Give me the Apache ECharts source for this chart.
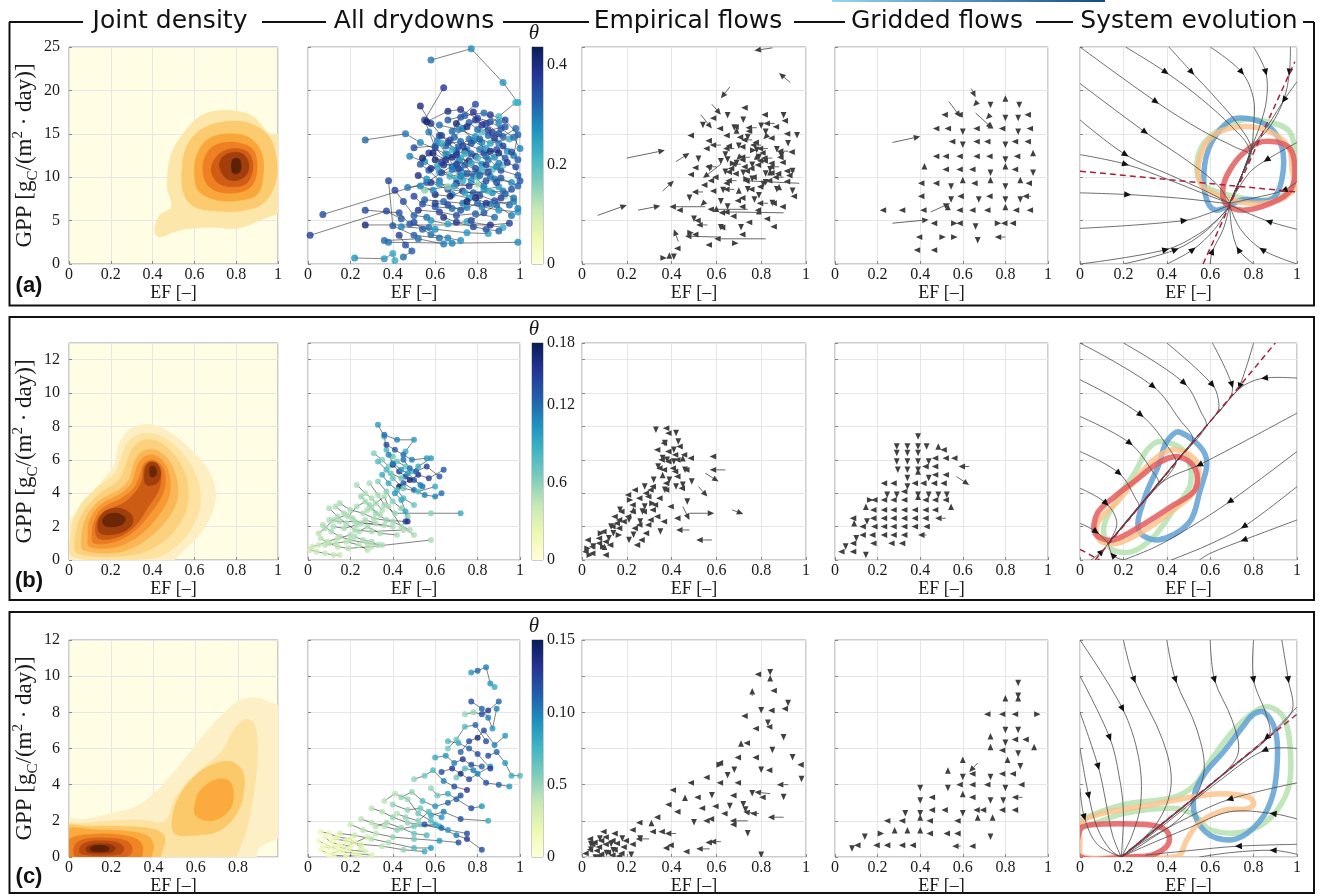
<!DOCTYPE html>
<html>
<head>
<meta charset="utf-8">
<title>Drydown dynamics</title>
<script src="https://cdn.jsdelivr.net/npm/echarts/dist/echarts.min.js"></script>
<style>
  html, body { margin: 0; padding: 0; background: #fff; }
  #chart { width: 1321px; height: 896px; }
</style>
</head>
<body>
<div id="chart"></div>
<script>
// ---------------- data ----------------
const titles = ['Joint density', 'All drydowns', 'Empirical flows', 'Gridded flows', 'System evolution'];
const gppMax = [25, 13, 12];
const gppStep = [5, 2, 2];
const efMaxDensity = [1, 1, 0.99];
const thetaMax = [0.436, 0.168, 0.15];
const thetaStep = [0.2, 0.06, 0.05];
const thetaTicksA = ['0', '0.2', '0.4'];
const thetaTicksB = ['0', '0.6', '0.12', '0.18'];
const thetaTicksC = ['0', '0.5', '0.10', '0.15'];
const panelTags = ['(a)', '(b)', '(c)'];

// joint density: [level, polygon of [EF, GPP]]
const densA = [
  [0, [[0.43,3.1],[0.5,3.7],[0.58,4.1],[0.7,4.2],[0.8,4.1],[0.92,5.1],[1.03,6.6],[1.03,14.6],[0.96,15.0],[0.88,17.0],[0.76,17.7],[0.64,17.2],[0.56,15.4],[0.49,12.7],[0.47,8.9],[0.49,6.6],[0.43,5.5],[0.41,3.9]]],
  [1, [[0.55,8.0],[0.6,6.6],[0.7,6.1],[0.82,6.1],[0.93,7.0],[0.99,9.5],[0.99,12.6],[0.95,14.9],[0.85,16.3],[0.72,16.3],[0.62,15.3],[0.56,13.4],[0.54,10.6]]],
  [2, [[0.6,10.3],[0.62,8.4],[0.7,7.4],[0.8,7.3],[0.9,8.0],[0.93,10.4],[0.92,12.9],[0.86,14.6],[0.76,15.0],[0.66,14.3],[0.61,12.4]]],
  [3, [[0.64,11.0],[0.66,9.2],[0.72,8.3],[0.82,8.3],[0.88,9.2],[0.9,11.3],[0.88,13.2],[0.8,14.0],[0.71,13.8],[0.66,12.8]]],
  [4, [[0.68,11.0],[0.71,9.4],[0.78,8.9],[0.85,9.3],[0.88,11.1],[0.86,12.8],[0.79,13.3],[0.72,12.7]]],
  [5, [[0.72,11.2],[0.75,9.9],[0.8,9.6],[0.85,10.3],[0.86,11.6],[0.83,12.7],[0.77,12.8],[0.73,12.2]]],
  [6, [[0.78,10.6],[0.8,10.4],[0.82,10.7],[0.82,11.9],[0.8,12.2],[0.78,11.9]]]
];
const densB = [
  [0, [[-0.03,-0.4],[0.45,-0.4],[0.55,0.6],[0.63,1.6],[0.69,3.0],[0.70,4.2],[0.67,5.3],[0.6,6.4],[0.5,7.5],[0.4,8.1],[0.3,7.9],[0.24,7.0],[0.22,5.8],[0.17,4.9],[0.08,3.6],[0.02,2.6],[-0.03,2.2]]],
  [1, [[0.02,0.2],[0.4,0.1],[0.52,0.9],[0.6,2.2],[0.63,3.5],[0.61,5.0],[0.55,6.3],[0.46,7.3],[0.37,7.6],[0.29,7.2],[0.25,6.2],[0.22,5.2],[0.13,4.3],[0.05,3.2],[0.01,1.8]]],
  [2, [[0.04,0.4],[0.3,0.3],[0.45,1.1],[0.54,2.4],[0.57,3.6],[0.56,5.0],[0.51,6.2],[0.44,7.0],[0.36,7.2],[0.3,6.6],[0.27,5.6],[0.24,4.8],[0.14,3.9],[0.06,2.7],[0.03,1.4]]],
  [3, [[0.07,0.6],[0.25,0.5],[0.38,1.3],[0.48,2.6],[0.52,3.8],[0.51,5.1],[0.47,6.1],[0.41,6.6],[0.35,6.5],[0.31,5.8],[0.29,4.9],[0.25,4.3],[0.14,3.5],[0.08,2.5],[0.06,1.4]]],
  [4, [[0.1,0.8],[0.23,0.8],[0.34,1.5],[0.43,2.7],[0.48,3.9],[0.48,5.1],[0.45,5.9],[0.4,6.3],[0.35,6.1],[0.32,5.4],[0.3,4.6],[0.25,4.0],[0.15,3.3],[0.1,2.4],[0.09,1.4]]],
  [5, [[0.12,1.0],[0.22,1.1],[0.31,1.7],[0.39,2.8],[0.45,4.0],[0.46,5.0],[0.44,5.7],[0.4,6.0],[0.36,5.8],[0.34,5.1],[0.31,4.3],[0.25,3.7],[0.16,3.1],[0.12,2.3],[0.11,1.5]]],
  [6, [[0.14,1.3],[0.24,1.4],[0.32,2.1],[0.38,3.2],[0.43,4.2],[0.44,5.1],[0.42,5.7],[0.39,5.9],[0.36,5.6],[0.35,4.8],[0.32,4.1],[0.26,3.4],[0.17,2.9],[0.13,2.2]]],
  [7, [[0.15,1.6],[0.24,1.6],[0.3,2.1],[0.3,2.7],[0.24,3.1],[0.17,2.9],[0.14,2.3]]],
  [7, [[0.37,4.5],[0.42,4.6],[0.44,5.2],[0.42,5.8],[0.38,5.8],[0.36,5.2]]],
  [8, [[0.18,2.0],[0.25,2.1],[0.27,2.5],[0.23,2.8],[0.18,2.7],[0.16,2.3]]],
  [8, [[0.39,5.0],[0.41,5.0],[0.42,5.3],[0.41,5.6],[0.39,5.6],[0.385,5.3]]]
];
const densC = [
  [0, [[-0.03,-0.4],[0.87,-0.4],[0.9,0.5],[1.03,1.5],[1.03,8.0],[0.94,8.6],[0.88,8.8],[0.8,8.6],[0.72,7.8],[0.62,6.5],[0.52,5.0],[0.42,3.7],[0.32,2.8],[0.2,2.4],[0.08,2.1],[-0.03,2.0]]],
  [1, [[-0.03,-0.4],[0.75,-0.4],[0.82,0.8],[0.86,2.5],[0.89,5.0],[0.89,6.8],[0.87,7.5],[0.83,7.6],[0.78,7.0],[0.72,5.8],[0.63,4.9],[0.55,4.0],[0.5,3.2],[0.47,2.2],[0.44,1.9],[0.35,2.05],[0.2,2.0],[0.05,1.85],[-0.03,1.8]]],
  [2, [[-0.03,-0.4],[0.4,-0.4],[0.45,0.6],[0.45,1.2],[0.4,1.55],[0.25,1.7],[0.1,1.7],[-0.03,1.65]]],
  [2, [[0.5,1.3],[0.6,1.2],[0.72,1.5],[0.8,2.5],[0.83,3.8],[0.82,4.8],[0.76,5.3],[0.66,5.0],[0.58,4.3],[0.52,3.3],[0.49,2.2]]],
  [3, [[-0.03,-0.4],[0.36,-0.4],[0.4,0.5],[0.38,1.1],[0.3,1.4],[0.15,1.5],[-0.03,1.45]]],
  [3, [[0.6,2.3],[0.68,2.0],[0.76,2.6],[0.78,3.5],[0.76,4.2],[0.7,4.3],[0.63,3.8],[0.6,3.1]]],
  [4, [[-0.03,-0.4],[0.32,-0.4],[0.35,0.5],[0.32,1.0],[0.22,1.25],[0.1,1.25],[0.02,1.1],[-0.03,0.6]]],
  [5, [[0.03,0.05],[0.28,0.05],[0.3,0.5],[0.27,0.9],[0.18,1.05],[0.08,1.0],[0.03,0.7]]],
  [6, [[0.06,0.15],[0.24,0.15],[0.26,0.5],[0.23,0.8],[0.15,0.9],[0.08,0.8],[0.05,0.5]]],
  [7, [[0.09,0.25],[0.2,0.25],[0.22,0.5],[0.19,0.7],[0.13,0.72],[0.09,0.6],[0.08,0.45]]],
  [8, [[0.11,0.32],[0.18,0.32],[0.19,0.5],[0.17,0.62],[0.12,0.62],[0.1,0.48]]]
];

// drydowns: sequences of [EF, GPP, theta]
const dryA = [
  [[0.58,23.5,.30],[0.77,24.8,.28],[0.92,20.9,.27],[0.99,18.6,.25]],
  [[0.64,20.3,.38],[0.55,16.6,.37],[0.6,13.4,.34],[0.68,11.2,.31]],
  [[0.27,14.3,.32],[0.46,15.0,.30],[0.53,14.0,.28],[0.66,12.6,.25]],
  [[0.07,5.7,.35],[0.56,9.4,.33],[0.71,11.8,.31],[0.86,10.1,.29]],
  [[0.01,3.3,.37],[0.37,6.1,.36],[0.44,5.2,.34]],
  [[0.22,0.7,.27],[0.36,0.6,.26],[0.4,1.2,.24],[0.41,0.4,.23]],
  [[0.38,2.5,.30],[0.68,2.4,.29],[0.99,2.5,.28]],
  [[0.27,6.2,.36],[0.43,5.9,.34],[0.48,4.6,.33],[0.57,4.2,.31]],
  [[0.27,4.5,.41],[0.86,4.5,.39],[0.95,4.7,.37]],
  [[0.38,9.6,.36],[0.40,4.4,.34],[0.5,3.3,.33],[0.62,3.0,.31]],
  [[0.44,4.3,.29],[0.6,4.0,.27],[0.75,3.6,.26],[0.85,3.5,.25]],
  [[0.36,2.7,.32],[0.52,2.9,.31],[0.64,2.3,.30]],
  [[0.98,18.6,.22],[0.9,17.0,.21],[0.82,15.2,.20]],
  [[0.79,18.4,.35],[0.72,16.9,.34],[0.68,15.3,.32],[0.75,13.2,.30],[0.82,11.5,.28]],
  [[0.53,18.2,.40],[0.58,16.2,.38],[0.63,14.8,.36],[0.7,13.1,.33]],
  [[0.56,16.4,.42],[0.66,17.6,.40],[0.72,17.8,.39],[0.84,16.2,.37],[0.9,15.0,.35]],
  [[0.86,17.2,.38],[0.93,16.6,.36],[0.99,14.9,.33],[0.97,12.5,.30]],
  [[0.48,12.4,.29],[0.55,11.8,.27],[0.62,10.6,.25],[0.7,9.8,.23]],
  [[0.5,13.4,.36],[0.6,13.6,.34],[0.72,14.1,.32],[0.81,13.2,.30],[0.88,12.3,.28]],
  [[0.52,10.2,.40],[0.58,9.4,.38],[0.66,8.6,.36],[0.78,8.2,.33],[0.92,8.4,.30]],
  [[0.55,8.5,.16],[0.66,8.9,.15],[0.8,9.2,.14],[0.93,7.8,.13]],
  [[0.62,16.0,.31],[0.71,15.5,.29],[0.79,14.7,.27],[0.86,13.9,.25],[0.95,14.4,.23]],
  [[0.6,12.0,.42],[0.68,12.3,.41],[0.76,11.9,.39],[0.84,11.4,.37],[0.91,10.8,.35],[0.99,10.2,.33]],
  [[0.63,10.5,.35],[0.72,10.8,.34],[0.8,10.6,.32],[0.88,9.8,.30],[0.96,9.4,.28]],
  [[0.55,7.4,.33],[0.64,7.2,.32],[0.73,7.0,.30],[0.82,6.6,.29],[0.9,6.2,.27],[0.99,6.0,.25]],
  [[0.52,6.2,.39],[0.62,6.0,.37],[0.7,5.6,.35],[0.79,5.8,.33],[0.88,5.4,.31]],
  [[0.58,5.0,.26],[0.66,4.6,.25],[0.75,4.9,.24],[0.92,4.2,.23]],
  [[0.74,13.0,.40],[0.79,12.4,.39],[0.83,12.8,.37],[0.89,13.2,.35],[0.93,12.2,.33]],
  [[0.66,14.0,.37],[0.7,12.8,.36],[0.74,11.4,.34],[0.78,10.2,.32],[0.83,9.0,.30],[0.87,8.2,.28]],
  [[0.76,16.3,.33],[0.8,15.5,.32],[0.85,14.8,.31],[0.9,13.9,.29],[0.94,13.0,.27]],
  [[0.57,15.2,.30],[0.61,14.2,.29],[0.65,12.7,.28],[0.69,11.2,.26],[0.73,9.6,.24]],
  [[0.53,11.5,.34],[0.57,10.8,.33],[0.62,9.6,.31],[0.68,8.0,.29],[0.76,7.6,.27]],
  [[0.8,16.8,.36],[0.86,16.4,.35],[0.91,15.6,.33],[0.97,14.6,.31],[1.0,13.3,.29]],
  [[0.7,9.3,.38],[0.76,9.0,.37],[0.84,9.6,.35],[0.91,9.9,.34],[0.99,9.0,.32]],
  [[0.6,8.0,.41],[0.67,7.8,.40],[0.73,8.4,.38],[0.81,7.9,.36],[0.88,7.3,.34],[0.95,6.8,.32]],
  [[0.72,12.2,.25],[0.77,11.6,.24],[0.82,10.9,.22],[0.87,10.9,.20],[0.92,11.4,.18]],
  [[0.65,13.6,.33],[0.69,14.6,.32],[0.73,15.6,.30],[0.78,14.2,.28],[0.84,13.3,.26]],
  [[0.5,7.8,.36],[0.54,6.9,.35],[0.6,6.6,.33],[0.68,6.4,.31],[0.75,6.5,.29]],
  [[0.47,8.8,.30],[0.53,9.0,.29],[0.59,8.5,.28]],
  [[0.41,8.5,.37],[0.45,7.2,.35],[0.5,5.6,.33],[0.56,5.4,.31]],
  [[0.88,14.5,.39],[0.92,13.6,.37],[0.96,12.9,.35],[0.99,12.0,.33]],
  [[0.66,16.6,.34],[0.74,17.1,.33],[0.83,17.4,.31],[0.9,16.3,.29]],
  [[0.61,11.3,.24],[0.67,10.1,.23],[0.73,10.4,.21],[0.8,10.0,.19]],
  [[0.57,12.8,.38],[0.63,11.7,.37],[0.71,11.0,.35],[0.77,12.7,.33],[0.85,12.0,.31]],
  [[0.77,5.0,.36],[0.83,5.9,.34],[0.89,6.8,.32],[0.96,5.6,.30]],
  [[0.43,3.3,.37],[0.46,2.2,.35],[0.49,1.5,.33],[0.45,0.8,.31]],
  [[0.62,14.8,.36],[0.67,14.3,.35],[0.71,13.5,.33],[0.76,14.4,.31],[0.82,14.0,.29]],
  [[0.7,16.2,.41],[0.75,15.8,.40],[0.79,16.6,.38],[0.85,15.4,.36],[0.93,15.8,.34]],
  [[0.58,11.0,.39],[0.64,11.4,.38],[0.7,11.5,.36],[0.75,10.4,.34],[0.81,10.2,.32],[0.9,11.6,.30]],
  [[0.56,9.8,.27],[0.62,9.2,.26],[0.69,9.0,.25],[0.74,8.2,.24],[0.85,8.4,.22]],
  [[0.6,7.0,.37],[0.66,6.8,.36],[0.72,6.2,.34],[0.8,7.0,.32],[0.86,6.9,.30],[0.97,7.2,.28]],
  [[0.64,5.4,.40],[0.7,4.8,.38],[0.78,4.3,.36],[0.84,4.0,.34],[0.9,3.8,.32]],
  [[0.5,4.8,.35],[0.54,4.0,.33],[0.58,3.4,.31],[0.66,3.0,.29],[0.72,2.7,.27]],
  [[0.78,17.5,.39],[0.82,16.0,.38],[0.87,15.1,.36],[0.92,14.7,.34],[0.98,15.6,.32]],
  [[0.86,13.0,.41],[0.9,12.8,.40],[0.94,11.7,.38],[0.98,11.2,.36],[1.0,9.6,.34]],
  [[0.73,13.6,.36],[0.77,13.9,.35],[0.81,14.4,.33],[0.84,12.4,.31],[0.89,11.2,.29]],
  [[0.68,10.9,.30],[0.72,10.1,.29],[0.77,9.6,.28],[0.83,8.6,.27],[0.9,8.9,.26]],
  [[0.54,12.2,.42],[0.59,12.8,.41],[0.65,12.0,.39],[0.7,12.6,.37],[0.79,11.0,.35]],
  [[0.63,13.9,.24],[0.68,13.2,.23],[0.74,12.7,.22],[0.8,12.2,.21]],
  [[0.85,10.6,.36],[0.89,9.4,.35],[0.93,8.1,.33],[0.97,7.6,.31],[0.99,6.4,.29]],
  [[0.75,7.2,.42],[0.79,7.6,.41],[0.84,7.0,.39],[0.91,7.6,.37],[0.96,8.6,.35]]
];
const dryB = [
  [[0.33,8.1,.10],[0.36,7.4,.09],[0.37,6.6,.08],[0.4,6.2,.07]],
  [[0.36,7.5,.12],[0.42,7.2,.11],[0.5,7.2,.10],[0.46,6.5,.09]],
  [[0.37,6.9,.14],[0.41,6.6,.13],[0.45,6.3,.12],[0.49,6.0,.11],[0.56,6.1,.10]],
  [[0.31,6.4,.06],[0.35,6.0,.06],[0.38,5.6,.06],[0.42,5.9,.07],[0.46,5.6,.07]],
  [[0.4,5.7,.16],[0.43,5.3,.15],[0.46,5.0,.14],[0.5,4.8,.13],[0.54,4.4,.12]],
  [[0.39,5.2,.07],[0.44,4.9,.07],[0.49,5.3,.08],[0.52,5.6,.09],[0.58,6.1,.10]],
  [[0.43,4.4,.17],[0.48,4.8,.16],[0.52,5.1,.15],[0.57,4.9,.14],[0.64,5.4,.13]],
  [[0.35,5.1,.09],[0.38,4.6,.09],[0.42,4.2,.08],[0.45,3.7,.08],[0.5,3.3,.07]],
  [[0.45,4.6,.13],[0.5,4.2,.12],[0.55,3.9,.11],[0.6,3.8,.11],[0.63,4.0,.12]],
  [[0.33,4.7,.06],[0.37,4.1,.06],[0.4,3.5,.06],[0.44,3.1,.06],[0.47,2.6,.06]],
  [[0.29,4.6,.05],[0.33,3.9,.05],[0.36,3.3,.055],[0.41,2.8,.055],[0.58,2.8,.06],[0.72,2.8,.09]],
  [[0.23,4.5,.05],[0.27,4.0,.05],[0.3,3.7,.05],[0.35,3.0,.05]],
  [[0.25,3.8,.055],[0.29,3.3,.055],[0.32,2.8,.055],[0.37,2.4,.055],[0.46,2.3,.14]],
  [[0.13,3.2,.05],[0.17,2.8,.05],[0.21,2.5,.05],[0.25,2.2,.05],[0.36,2.1,.05]],
  [[0.1,3.1,.05],[0.14,2.6,.05],[0.18,2.2,.05],[0.22,1.8,.05],[0.3,1.7,.05],[0.45,1.8,.05]],
  [[0.15,3.4,.05],[0.2,3.0,.05],[0.26,2.8,.05],[0.31,2.5,.05],[0.4,2.3,.05],[0.48,1.8,.05]],
  [[0.07,2.1,.05],[0.11,1.7,.05],[0.15,1.4,.05],[0.2,1.2,.05],[0.28,1.0,.05],[0.35,0.9,.05]],
  [[0.06,1.3,.045],[0.1,1.0,.045],[0.14,0.8,.045],[0.19,0.7,.045],[0.3,0.8,.045],[0.58,1.2,.05]],
  [[0.01,0.6,.04],[0.04,0.5,.04],[0.08,0.4,.04],[0.12,0.3,.04],[0.15,0.3,.04]],
  [[0.02,0.8,.04],[0.05,0.9,.04],[0.09,1.1,.045],[0.14,1.3,.045],[0.2,1.5,.05]],
  [[0.12,2.0,.05],[0.17,1.9,.05],[0.23,2.1,.05],[0.27,2.4,.05],[0.32,2.2,.05]],
  [[0.19,2.6,.05],[0.23,3.2,.05],[0.27,3.5,.05],[0.3,3.1,.05],[0.34,2.7,.05]],
  [[0.22,1.4,.05],[0.26,1.2,.05],[0.3,1.1,.05],[0.33,0.9,.05]],
  [[0.1,2.4,.05],[0.15,2.3,.05],[0.22,2.3,.05],[0.4,2.0,.05]],
  [[0.33,5.9,.08],[0.37,5.4,.08],[0.4,4.9,.07],[0.45,4.3,.07],[0.52,4.1,.08],[0.6,4.4,.09]],
  [[0.38,6.3,.11],[0.4,5.8,.11],[0.44,5.4,.10],[0.47,5.2,.10],[0.53,4.5,.11]],
  [[0.28,3.0,.05],[0.32,3.4,.05],[0.36,3.8,.05],[0.38,3.2,.05],[0.44,2.0,.05],[0.5,1.5,.05]],
  [[0.05,1.6,.045],[0.08,1.9,.05],[0.12,2.4,.05],[0.18,2.7,.05]],
  [[0.24,1.7,.05],[0.28,2.0,.05],[0.34,1.6,.05],[0.42,1.5,.05]],
  [[0.08,0.9,.045],[0.13,1.0,.045],[0.18,1.1,.045],[0.24,0.9,.045],[0.28,0.6,.045]],
  [[0.45,6.0,.12],[0.48,5.5,.12],[0.51,5.3,.13],[0.56,5.6,.14],[0.62,5.0,.13]],
  [[0.41,4.0,.10],[0.44,3.6,.09],[0.46,2.9,.09],[0.47,2.3,.15]]
];
const dryC = [
  [[0.77,10.2,.09],[0.8,10.3,.11],[0.84,10.5,.10],[0.86,9.6,.09],[0.88,9.4,.08]],
  [[0.77,8.6,.12],[0.82,8.2,.11],[0.85,7.7,.10],[0.87,7.1,.09],[0.89,8.2,.10]],
  [[0.74,7.9,.05],[0.78,8.0,.05],[0.82,7.9,.12],[0.85,8.1,.13],[0.9,8.6,.11]],
  [[0.72,5.8,.11],[0.76,6.4,.12],[0.8,6.6,.14],[0.83,7.0,.12],[0.88,6.2,.10],[0.93,6.7,.09]],
  [[0.66,6.0,.06],[0.7,6.5,.06],[0.74,7.2,.07],[0.79,7.3,.11],[0.84,6.4,.12]],
  [[0.6,5.5,.08],[0.65,5.6,.09],[0.69,5.2,.10],[0.73,5.4,.13],[0.77,5.1,.12],[0.82,5.0,.11]],
  [[0.63,4.7,.12],[0.68,4.9,.13],[0.72,4.6,.14],[0.76,4.3,.12],[0.8,4.6,.10],[0.86,5.0,.09]],
  [[0.5,4.3,.05],[0.55,4.5,.06],[0.59,4.8,.07],[0.64,4.2,.10],[0.69,3.9,.12],[0.75,3.7,.13]],
  [[0.44,3.3,.05],[0.49,3.6,.05],[0.54,3.1,.07],[0.6,2.8,.09],[0.66,3.0,.11],[0.72,3.4,.12]],
  [[0.4,2.9,.05],[0.47,2.6,.05],[0.53,2.7,.06],[0.58,2.3,.08],[0.64,2.5,.10],[0.72,2.1,.12],[0.85,2.0,.08]],
  [[0.36,3.1,.04],[0.41,3.5,.04],[0.47,3.2,.05],[0.52,2.4,.06],[0.58,2.0,.07],[0.62,1.7,.08]],
  [[0.3,2.7,.04],[0.35,2.5,.04],[0.4,2.2,.05],[0.47,1.9,.05],[0.53,1.8,.06],[0.66,1.5,.09],[0.75,1.3,.12]],
  [[0.25,2.1,.04],[0.3,1.9,.04],[0.36,1.7,.04],[0.42,1.5,.05],[0.5,1.7,.06],[0.6,1.8,.08]],
  [[0.2,1.8,.035],[0.26,1.5,.04],[0.32,1.3,.04],[0.4,1.1,.05],[0.5,1.0,.06],[0.62,0.9,.09],[0.71,0.8,.12]],
  [[0.15,1.3,.03],[0.22,1.2,.035],[0.3,1.0,.04],[0.38,0.8,.045],[0.5,0.5,.07],[0.58,0.5,.09]],
  [[0.12,1.0,.02],[0.18,0.9,.025],[0.25,0.7,.03],[0.35,0.6,.04],[0.45,0.4,.05],[0.55,0.3,.08]],
  [[0.06,1.4,.015],[0.1,1.3,.015],[0.14,1.1,.02],[0.2,1.0,.02],[0.25,0.5,.03]],
  [[0.05,0.9,.01],[0.08,0.7,.01],[0.12,0.5,.015],[0.16,0.3,.015],[0.22,0.2,.02],[0.3,0.1,.025]],
  [[0.06,0.4,.01],[0.09,0.2,.01],[0.12,0.1,.015],[0.18,0.05,.02],[0.24,0.1,.025]],
  [[0.07,0.6,.012],[0.1,0.5,.012],[0.14,0.6,.015],[0.19,0.4,.02],[0.27,0.3,.03]],
  [[0.08,1.1,.012],[0.11,0.8,.012],[0.15,0.7,.015],[0.2,0.6,.02]],
  [[0.1,0.15,.01],[0.14,0.3,.012],[0.17,0.5,.015],[0.22,0.8,.02],[0.28,1.1,.03]],
  [[0.55,1.8,.12],[0.63,1.6,.11],[0.7,1.2,.10],[0.75,1.0,.13],[0.82,0.4,.12]],
  [[0.58,3.8,.05],[0.61,3.4,.06],[0.66,3.5,.08],[0.7,3.2,.11],[0.77,2.7,.12],[0.82,2.8,.09]],
  [[0.85,5.6,.12],[0.89,5.8,.11],[0.93,5.2,.09],[0.96,4.5,.08],[1.0,4.5,.07]],
  [[0.66,6.4,.07],[0.71,6.3,.08],[0.76,6.0,.11],[0.8,5.7,.12],[0.86,4.9,.13]],
  [[0.7,4.4,.06],[0.74,4.9,.07],[0.78,4.8,.10],[0.84,4.1,.12],[0.9,4.0,.11],[0.95,3.9,.09]],
  [[0.42,2.4,.04],[0.46,2.2,.05],[0.52,2.0,.05],[0.57,2.5,.07],[0.63,2.2,.09]],
  [[0.32,1.7,.04],[0.37,1.9,.045],[0.44,1.6,.05],[0.5,1.3,.06],[0.56,1.2,.07]]
];

// empirical flows: [EF, GPP, dEF, dGPP]
const flowA = [
  [0.85,24.9,-0.08,-0.3],[0.93,20.9,-0.05,1.1],[0.66,20.4,-0.04,-1.3],[0.07,5.6,0.13,1.2],[0.2,12.2,0.17,0.9],
  [0.53,17.2,0.05,-1.6],[0.58,18.4,0.04,-1.2],[0.36,8.4,0.05,1.2],[0.82,2.9,-0.23,0],[0.62,3.1,-0.16,0.1],
  [0.9,5.9,-0.27,0.1],[0.97,9.3,-0.25,0.3],[0.43,2.6,-0.02,1.4],[0.62,11.5,-0.08,-1.6],[0.25,6.2,0.1,0.5],
  [0.55,6.6,-0.16,0],[0.42,11.8,0.06,1.0],[0.74,6.3,-0.18,0],
  [0.45,6.2,-0.015,0],[0.48,8.0,0,-0.35],[0.5,10.3,-0.015,0],[0.52,12.5,0,-0.35],[0.53,5.0,-0.015,0],[0.55,7.2,-0.01,-0.25],
  [0.56,9.1,-0.015,0],[0.57,11.4,0,-0.35],[0.58,14.2,-0.015,0],[0.6,6.0,0,0.35],[0.6,8.4,-0.015,0],[0.61,10.0,-0.015,0],
  [0.62,12.2,0,-0.35],[0.63,15.6,-0.015,0],[0.64,4.2,-0.015,0],[0.65,7.0,0,-0.35],[0.66,9.3,-0.015,0],[0.66,11.6,0.015,0],
  [0.67,13.6,-0.015,0],[0.68,16.1,0,-0.35],[0.69,5.5,-0.015,0],[0.7,8.1,0,0.35],[0.7,10.4,-0.015,0],[0.71,12.5,-0.01,-0.25],
  [0.72,14.6,-0.015,0],[0.72,17.0,0,-0.35],[0.73,6.6,-0.015,0],[0.74,9.0,0,-0.35],[0.74,11.2,-0.015,0],[0.75,13.1,0.015,0],
  [0.76,15.3,-0.015,0],[0.76,4.8,-0.015,0],[0.77,7.8,0,-0.35],[0.78,10.0,-0.015,0],[0.78,12.0,0,0.35],[0.79,14.0,-0.015,0],
  [0.8,16.3,0,-0.35],[0.8,6.2,-0.015,0],[0.81,8.9,-0.015,0],[0.82,10.8,0,-0.35],[0.82,12.8,-0.015,0],[0.83,14.9,-0.01,-0.25],
  [0.84,5.2,-0.015,0],[0.85,7.4,0,-0.35],[0.85,9.6,-0.015,0],[0.86,11.6,-0.015,0],[0.87,13.6,0,-0.35],[0.88,15.8,-0.015,0],
  [0.88,8.5,0,0.35],[0.89,10.4,-0.015,0],[0.9,12.3,-0.015,0],[0.91,6.6,-0.015,0],[0.92,14.3,0,-0.35],[0.93,9.5,-0.015,0],
  [0.94,11.1,0,-0.35],[0.95,12.9,-0.015,0],[0.96,7.8,-0.015,0],[0.5,14.8,-0.015,0],[0.54,16.4,0,-0.35],[0.47,3.6,0.015,0],
  [0.41,1.2,0,-0.35],[0.39,0.6,0,0.35],[0.35,0.7,0.015,0],[0.44,1.8,-0.015,0],[0.52,3.4,-0.015,0],[0.58,2.2,-0.015,0],
  [0.67,2.4,0.015,0],[0.73,3.4,-0.015,0],[0.62,4.6,0,-0.35],[0.68,11.0,-0.015,0],[0.76,11.8,0,-0.35],[0.8,11.4,-0.015,0],
  [0.72,9.8,0.015,0],[0.84,10.2,0,0.35],[0.77,8.6,-0.015,0],[0.64,13.0,0,-0.35],[0.86,14.5,-0.015,0],[0.69,15.0,0,0.35],
  [0.6,16.8,-0.015,0],[0.92,16.5,-0.015,0],[0.96,15.2,0,-0.35],[0.74,18.0,-0.015,0],[0.65,17.5,0,-0.35],[0.83,17.2,-0.015,0],
  [0.9,17.5,0,-0.35],[0.71,7.3,-0.015,0],[0.79,5.7,0,0.35],[0.87,4.3,-0.015,0],[0.63,8.9,0,-0.35],[0.57,13.3,-0.015,0],
  [0.94,10.2,-0.015,0],[0.81,9.6,0,-0.35],[0.75,10.7,-0.015,0],[0.69,12.0,0,-0.35],[0.83,11.9,-0.015,0],[0.73,12.0,-0.015,0],
  [0.78,13.5,0,-0.35],[0.66,14.8,-0.015,0],
  [0.62,13.7,-0.05,0],[0.65,12.4,0,-0.35],[0.68,13.3,-0.05,0],[0.7,14.0,0,-0.35],[0.71,11.5,-0.05,0],[0.73,13.5,-0.015,0],
  [0.74,15.0,0,-0.35],[0.75,12.3,-0.05,0],[0.76,10.2,0,-0.35],[0.77,11.0,-0.015,0],[0.78,15.7,-0.05,0],[0.79,12.7,0,-0.35],
  [0.8,13.7,-0.05,0],[0.81,11.9,-0.015,0],[0.82,9.8,0,-0.35],[0.83,13.3,-0.05,0],[0.84,11.3,0,-0.35],[0.85,12.2,-0.05,0],
  [0.86,10.5,-0.015,0],[0.87,9.0,0,-0.35],[0.88,11.2,-0.05,0],[0.89,12.9,0,-0.35],[0.9,10.0,-0.05,0],[0.91,11.7,-0.015,0],
  [0.92,13.0,-0.05,0],[0.72,10.9,0,-0.35],[0.69,9.6,-0.05,0],[0.67,10.6,-0.015,0],[0.64,11.0,0,-0.35],[0.6,11.2,-0.05,0],
  [0.59,9.6,-0.015,0],[0.62,7.6,0,-0.35],[0.68,8.6,-0.05,0],[0.73,7.6,-0.015,0],[0.79,8.3,0,-0.35],[0.83,7.0,-0.05,0],
  [0.87,7.0,-0.015,0],[0.94,8.8,0,-0.35],[0.76,14.3,-0.05,0],[0.7,15.8,-0.015,0],[0.82,15.6,0,-0.35],[0.86,16.2,-0.05,0],
  [0.93,15.0,-0.015,0],[0.95,10.7,-0.05,0],[0.66,5.9,-0.05,0],[0.71,4.6,0,-0.35],[0.56,4.5,-0.05,0],[0.5,5.6,0,-0.35],
  [0.54,8.3,-0.05,0],[0.52,11.1,-0.015,0]
];
const flowB = [
  [0.64,5.4,-0.07,0],[0.55,5.2,0.06,-0.5],[0.48,2.8,0.11,0],[0.67,3.0,0.05,-0.25],[0.58,1.2,-0.07,0],
  [0.48,1.8,-0.06,0],[0.6,6.2,-0.03,0],[0.52,4.4,0.04,-0.6],[0.45,3.2,0.03,-0.8],
  [0.01,0.7,0.015,0],[0.03,0.5,-0.015,0],[0.05,1.0,0,-0.2],[0.06,0.4,-0.015,0],[0.08,0.8,0.015,0],[0.09,1.3,-0.015,0],
  [0.1,0.6,0,0.2],[0.11,1.7,-0.015,0],[0.12,1.1,-0.015,0],[0.13,2.2,0,-0.2],[0.14,0.9,-0.015,0],[0.15,1.5,0.015,0],
  [0.16,2.6,-0.015,0],[0.17,3.2,0,-0.2],[0.18,1.9,-0.015,0],[0.19,2.9,-0.015,0],[0.2,3.6,0.015,0],[0.2,2.3,-0.015,0],
  [0.21,1.4,0,-0.2],[0.22,3.9,-0.015,0],[0.23,2.8,0,0.2],[0.24,3.3,-0.015,0],[0.25,4.2,-0.015,0],[0.25,1.9,-0.015,0],
  [0.26,2.5,0,-0.2],[0.27,3.7,-0.015,0],[0.28,4.6,0,-0.2],[0.28,1.2,-0.015,0],[0.29,2.9,-0.015,0],[0.3,3.4,0.015,0],
  [0.3,4.0,-0.015,0],[0.31,2.1,-0.015,0],[0.32,5.0,0,-0.2],[0.33,3.0,-0.015,0],[0.33,4.4,-0.015,0],[0.34,5.8,0,-0.2],
  [0.35,2.6,-0.015,0],[0.35,6.6,-0.015,0],[0.36,4.9,0,0.2],[0.36,3.7,-0.015,0],[0.37,7.2,0,-0.2],[0.38,5.4,-0.015,0],
  [0.38,6.2,0,-0.2],[0.39,4.2,-0.015,0],[0.4,7.6,-0.015,0],[0.4,5.9,-0.015,0],[0.41,6.8,0,-0.2],[0.41,3.2,-0.015,0],
  [0.42,4.6,0,-0.2],[0.42,5.5,-0.015,0],[0.43,6.3,-0.015,0],[0.43,7.3,0,-0.2],[0.44,2.5,-0.015,0],[0.44,5.0,-0.015,0],
  [0.45,5.9,0,0.2],[0.45,6.8,-0.015,0],[0.46,4.3,-0.015,0],[0.47,3.7,0,-0.2],[0.47,6.3,-0.015,0],[0.48,5.4,-0.015,0],
  [0.49,4.9,0,-0.2],[0.5,6.1,-0.015,0],[0.33,8.0,0,-0.2],[0.26,0.9,-0.015,0],[0.3,1.6,-0.015,0],[0.35,1.9,0,-0.2],
  [0.38,2.3,-0.015,0],[0.12,0.3,-0.015,0],[0.07,1.6,0.015,0],[0.39,7.9,-0.015,0],[0.42,7.8,0,-0.2],[0.37,6.0,-0.015,0],
  [0.4,6.5,-0.015,0],[0.39,5.0,0,-0.2],[0.44,6.0,-0.015,0],[0.46,5.6,0,-0.2],[0.36,5.5,-0.015,0],[0.32,4.2,-0.015,0],
  [0.27,3.1,0,-0.2],[0.22,2.6,-0.015,0],[0.17,2.2,-0.015,0],[0.14,1.8,0,-0.2],[0.04,1.2,-0.015,0],[0.02,0.3,0.015,0],
  [0.36,6.3,0,-0.2],[0.38,7.0,-0.015,0],[0.41,6.1,0,-0.2],[0.43,5.3,-0.015,0],[0.45,4.7,0,-0.2],[0.39,4.6,-0.015,0],
  [0.37,4.4,0,-0.2],[0.31,3.8,-0.015,0],[0.28,3.4,0,-0.2],[0.24,2.9,-0.015,0],[0.21,2.6,0,-0.2],[0.18,2.4,-0.015,0],
  [0.15,2.0,-0.015,0],[0.12,1.5,0,-0.2],[0.09,1.0,-0.015,0],[0.06,0.8,-0.015,0],[0.32,2.4,-0.015,0],[0.27,2.1,-0.015,0],
  [0.23,1.7,0,-0.2],[0.34,3.3,-0.015,0]
];
const flowC = [
  [0.92,4.0,-0.05,0],[0.9,2.2,-0.07,0],[0.76,8.9,0,0.45],[0.62,0.85,-0.05,0],[0.57,0.45,-0.06,0],
  [0.84,3.5,-0.07,0.1],[0.74,2.0,-0.08,0],[0.79,2.4,-0.07,0.1],[0.3,1.0,-0.06,0],[0.42,1.3,-0.05,0],
  [0.8,10.1,-0.015,0],[0.84,10.4,0,-0.2],[0.84,9.7,0,0.2],[0.87,9.2,-0.015,0],[0.92,8.7,0,-0.2],[0.86,8.1,-0.015,0],
  [0.92,8.2,-0.015,0],[0.74,7.8,-0.015,0],[0.8,8.3,0,-0.2],[0.83,7.6,0,-0.2],[0.85,7.2,-0.015,0],[0.9,6.8,0,-0.2],
  [0.79,7.1,-0.015,0],[0.94,5.7,0,-0.2],[0.99,5.1,-0.015,0],[0.98,4.5,0,-0.2],[0.85,6.1,0,-0.2],[0.79,5.5,-0.015,0],
  [0.71,6.1,0,0.2],[0.75,6.3,-0.015,0],[0.71,5.5,-0.015,0],[0.68,5.0,0,-0.2],[0.8,5.0,0,-0.2],[0.85,4.8,-0.015,0],
  [0.63,5.2,-0.015,0],[0.6,5.1,0.015,0],[0.57,4.4,-0.015,0],[0.65,4.7,0,-0.2],[0.71,4.1,-0.015,0],[0.76,3.7,0,-0.2],
  [0.9,3.5,0,-0.2],[0.82,3.3,-0.015,0],[0.63,4.1,-0.015,0],[0.58,3.6,0,-0.2],[0.53,3.3,-0.015,0],[0.5,4.1,-0.015,0],
  [0.46,3.1,0,0.2],[0.42,3.7,-0.015,0],[0.4,2.9,-0.015,0],[0.44,2.5,-0.015,0],[0.5,2.1,0,-0.2],[0.57,2.0,-0.015,0],
  [0.65,2.4,-0.015,0],[0.73,2.8,0,-0.2],[0.78,2.4,-0.015,0],[0.74,1.5,0,-0.2],[0.59,2.1,-0.015,0],[0.69,1.8,-0.015,0],
  [0.58,0.8,-0.015,0],[0.48,0.3,-0.015,0],[0.8,0.3,0,-0.2],[0.41,0.65,-0.015,0],[0.37,1.4,-0.015,0],[0.39,0.5,-0.015,0],
  [0.66,3.0,0,-0.2],[0.69,3.4,-0.015,0],[0.55,2.7,-0.015,0],[0.61,2.8,-0.015,0],[0.72,3.1,0,-0.2],[0.35,2.2,-0.015,0],
  [0.31,1.7,0,0.2],[0.27,1.9,-0.015,0],[0.24,1.5,-0.015,0],[0.33,1.4,-0.015,0],
  [0.03,0.2,-0.015,0],[0.04,0.6,0,-0.2],[0.05,0.4,-0.015,0],[0.05,1.0,-0.015,0],[0.06,0.15,0,-0.2],[0.07,0.8,-0.015,0],
  [0.08,0.35,-0.015,0],[0.08,1.2,0,-0.2],[0.09,0.55,-0.015,0],[0.1,0.15,-0.015,0],[0.1,0.9,-0.015,0],[0.11,0.4,0,-0.2],
  [0.12,0.7,-0.015,0],[0.12,1.1,-0.015,0],[0.13,0.25,-0.015,0],[0.14,0.55,0,-0.2],[0.15,0.9,-0.015,0],[0.15,0.1,-0.015,0],
  [0.16,0.4,-0.015,0],[0.17,0.75,-0.015,0],[0.18,1.2,0,-0.2],[0.19,0.2,-0.015,0],[0.2,0.55,-0.015,0],[0.21,0.9,-0.015,0],
  [0.22,0.3,0,-0.2],[0.06,0.7,-0.015,0],[0.09,0.05,-0.015,0],[0.13,0.9,0,-0.2],[0.16,1.3,-0.015,0],[0.04,0.9,0,-0.2],
  [0.11,1.4,-0.015,0],[0.18,0.05,-0.015,0],[0.24,0.7,-0.015,0],[0.26,1.2,0,-0.2]
];

// gridded flows: [EF, GPP, dEF, dGPP]
const gridFlowA = [
  [0.64,20.2,0.02,-1.0],[0.535,18.7,0.055,-1.8],[0.67,18.7,-0.01,-0.25],[0.73,18.7,0,-0.35],[0.8,18.7,0,0.35],[0.865,18.7,0,-0.35],
  [0.66,17.4,0.08,-1.8],[0.53,17.2,-0.015,0],[0.6,17.2,-0.015,0],[0.73,17.2,-0.01,-0.25],[0.8,17.2,0,-0.35],[0.86,17.2,0,-0.35],[0.92,17.2,-0.015,0],
  [0.49,15.6,-0.015,0],[0.545,15.6,-0.015,0],[0.6,15.6,0,-0.35],[0.68,15.6,-0.015,0],[0.73,15.6,0,0.35],[0.8,15.6,-0.015,0],[0.86,15.6,0,-0.35],[0.93,15.6,-0.015,0],
  [0.27,14.0,0.13,0.7],[0.565,14.1,-0.015,0],[0.6,14.1,0,-0.35],[0.68,14.1,-0.015,0],[0.73,14.1,-0.015,0],[0.8,14.1,0,-0.35],[0.86,14.1,-0.015,0],[0.92,14.1,-0.015,0],
  [0.49,12.4,-0.015,0],[0.535,12.4,-0.015,0],[0.6,12.4,-0.015,0],[0.68,12.4,-0.015,0],[0.74,12.4,-0.015,0],[0.8,12.4,0,-0.35],[0.87,12.4,-0.015,0],[0.93,12.4,0,0.35],
  [0.42,10.9,0,0.35],[0.535,10.9,-0.015,0],[0.6,10.9,-0.015,0],[0.66,10.9,-0.015,0],[0.73,10.9,0,-0.35],[0.8,10.9,0,0.35],[0.86,10.9,-0.015,0],[0.93,10.9,0,-0.35],
  [0.42,9.3,-0.015,0],[0.49,9.3,-0.015,0],[0.545,9.3,0,-0.35],[0.6,9.3,0,0.35],[0.67,9.3,-0.015,0],[0.73,9.3,0,0.35],[0.8,9.3,0,-0.35],[0.87,9.3,0,0.35],[0.925,9.3,-0.015,0],
  [0.42,7.8,-0.015,0],[0.545,7.8,0,-0.35],[0.605,7.8,-0.015,0],[0.675,7.8,0,-0.35],[0.74,7.8,-0.015,0],[0.8,7.8,0,-0.35],[0.87,7.8,0,-0.35],[0.92,7.8,-0.04,0],
  [0.24,6.2,-0.015,0],[0.33,6.2,-0.015,0],[0.43,6.2,-0.015,0],[0.53,6.2,0,0.35],[0.6,6.2,-0.015,0],[0.66,6.2,-0.015,0],[0.73,6.2,-0.015,0],[0.8,6.2,0,0.35],[0.865,6.2,-0.015,0],[0.93,6.2,-0.015,0],
  [0.45,6.0,0.09,1.0],[0.27,4.7,0.17,0.4],
  [0.48,4.7,-0.015,0],[0.545,4.7,0.015,0],[0.6,4.7,-0.015,0],[0.66,4.7,0,-0.35],[0.75,4.7,0.015,0],[0.81,4.7,-0.015,0],[0.85,4.7,-0.015,0],
  [0.41,3.1,-0.015,0],[0.49,3.1,0.015,0],[0.545,3.1,0.015,0],[0.67,3.1,0,-0.35],[0.8,3.1,-0.05,0],
  [0.4,1.6,-0.015,0],[0.48,1.6,-0.015,0]
];
const gridFlowB = [
  [0.39,7.6,0,-0.2],
  [0.29,7.0,0,-0.2],[0.34,7.0,0,-0.2],[0.39,7.0,0,-0.2],[0.43,7.0,0,-0.2],
  [0.29,6.6,0,-0.2],[0.34,6.6,0,-0.2],[0.39,6.6,0,-0.2],[0.485,6.6,0,0.2],[0.525,6.6,-0.015,0],
  [0.29,6.1,0,-0.2],[0.34,6.1,0,-0.2],[0.39,6.1,0,-0.2],[0.44,6.1,0,-0.2],[0.485,6.1,-0.015,0],[0.535,6.1,-0.015,0],[0.575,6.1,-0.015,0],
  [0.295,5.6,0,-0.2],[0.34,5.6,0,-0.2],[0.39,5.6,0,-0.2],[0.44,5.6,-0.015,0],[0.485,5.6,-0.015,0],[0.63,5.6,-0.05,0],
  [0.34,5.1,0,-0.2],[0.39,5.1,0,0.2],[0.44,5.1,0,-0.2],[0.485,5.1,-0.015,0],[0.535,5.1,-0.015,0],[0.57,5.0,0.06,-0.5],
  [0.245,4.6,-0.015,0],[0.29,4.6,-0.015,0],[0.34,4.6,0,-0.2],[0.39,4.6,-0.015,0],[0.43,4.6,-0.015,0],[0.48,4.6,-0.015,0],[0.525,4.6,-0.015,0],
  [0.245,4.1,0,-0.2],[0.29,4.1,0,-0.2],[0.34,4.1,-0.015,0],[0.39,4.1,0,-0.2],[0.44,4.1,0,-0.2],[0.485,4.1,0,-0.2],[0.525,4.1,0,-0.2],
  [0.15,3.6,0.015,0],[0.2,3.6,-0.015,0],[0.245,3.6,-0.015,0],[0.29,3.6,-0.015,0],[0.34,3.6,-0.015,0],[0.39,3.6,0,0.2],[0.44,3.6,-0.015,0],[0.485,3.6,-0.015,0],[0.535,3.6,-0.015,0],
  [0.145,3.0,0,0.2],[0.195,3.0,-0.015,0],[0.245,3.0,-0.015,0],[0.29,3.0,-0.015,0],[0.34,3.0,-0.015,0],[0.39,3.0,-0.015,0],[0.44,3.0,-0.015,0],[0.485,3.0,-0.015,0],[0.545,3.0,0,0.2],
  [0.1,2.5,-0.015,0],[0.15,2.5,0,-0.2],[0.195,2.5,-0.015,0],[0.245,2.5,-0.015,0],[0.29,2.5,-0.015,0],[0.34,2.5,-0.015,0],[0.39,2.5,-0.015,0],[0.44,2.5,-0.015,0],[0.52,2.5,-0.05,0],
  [0.09,2.0,0,0.2],[0.145,2.0,-0.015,0],[0.2,2.0,-0.015,0],[0.245,2.0,-0.015,0],[0.29,2.0,-0.015,0],[0.34,2.0,-0.015,0],[0.39,2.0,-0.015,0],[0.445,2.0,-0.015,0],
  [0.1,1.5,0,-0.2],[0.145,1.5,-0.015,0],[0.19,1.5,-0.015,0],[0.245,1.5,-0.015,0],[0.29,1.5,-0.015,0],[0.34,1.5,-0.015,0],[0.43,1.5,-0.04,0],
  [0.05,1.0,0,-0.2],[0.1,1.0,-0.015,0],[0.195,1.0,-0.015,0],[0.28,1.0,-0.015,0],[0.33,1.0,-0.015,0],
  [0.045,0.5,-0.015,0],[0.1,0.5,-0.015,0],[0.145,0.5,0,-0.2]
];
const gridFlowC = [
  [0.86,9.8,0,-0.2],[0.86,9.1,0,-0.2],[0.8,8.6,0,0.2],[0.86,8.6,0,0.2],
  [0.73,7.9,-0.015,0],[0.8,7.9,-0.015,0],[0.86,7.9,-0.015,0],[0.935,7.9,0.015,0],
  [0.8,7.2,0,-0.2],[0.86,7.2,0,-0.2],
  [0.73,6.5,0,0.2],[0.8,6.5,0,-0.2],[0.86,6.5,-0.015,0],[0.91,6.5,-0.015,0],
  [0.73,5.9,0,0.2],[0.8,5.9,-0.015,0],[0.86,5.9,0,-0.2],[0.935,5.9,0,0.2],
  [0.6,5.2,0,0.2],[0.67,5.2,-0.04,-0.5],[0.81,5.2,0,0.2],[0.87,5.2,0,-0.2],
  [0.53,4.6,0,0.2],[0.6,4.6,0,-0.2],[0.66,4.6,-0.015,0],[0.73,4.6,0,-0.2],[0.8,4.6,-0.015,0],[0.85,4.6,-0.015,0],
  [0.4,4.0,0,-0.2],[0.53,4.0,0,-0.2],[0.6,4.0,-0.015,0],[0.66,4.0,-0.015,0],[0.73,4.0,-0.015,0],[0.8,4.0,0,-0.2],[0.89,4.0,-0.03,0],
  [0.4,3.3,0,-0.2],[0.47,3.3,-0.015,0],[0.6,3.3,0,0.2],[0.66,3.3,-0.015,0],[0.73,3.3,0,-0.2],[0.79,3.3,0,-0.2],[0.88,3.3,-0.05,0],
  [0.33,2.6,0,-0.2],[0.4,2.6,0,-0.2],[0.47,2.6,-0.015,0],[0.53,2.6,-0.015,0],[0.6,2.6,0,-0.2],[0.68,2.6,-0.015,0],[0.71,2.6,-0.015,0],[0.8,2.6,-0.015,0],[0.86,2.6,-0.015,0],
  [0.26,2.0,-0.015,0],[0.33,2.0,-0.015,0],[0.4,2.0,0,0.2],[0.46,2.0,-0.015,0],[0.59,2.0,-0.015,0],[0.67,2.0,0,0.2],[0.74,2.0,0,0.2],
  [0.14,1.3,0,-0.2],[0.2,1.3,0.015,0],[0.28,1.3,0,0.2],[0.34,1.3,0,0.2],[0.4,1.3,0,0.2],[0.46,1.3,-0.015,0],[0.54,1.3,-0.015,0],[0.59,1.3,-0.015,0],[0.73,1.3,0,-0.2],
  [0.08,0.65,0,-0.2],[0.12,0.65,-0.015,0],[0.21,0.65,-0.015,0],[0.26,0.65,-0.015,0],[0.33,0.65,-0.015,0],[0.38,0.65,-0.015,0],[0.59,0.6,-0.04,0],[0.66,0.6,-0.03,0]
];

// system evolution: streamlines in flow direction (arrow sits on the 2nd vertex)
const streamA = [
  [[0,25],[0.35,18.7],[0.56,15.4],[0.72,13.4],[0.78,12.6],[0.75,10.5],[0.72,8.8],[0.69,7]],
  [[0.21,25],[0.395,22.1],[0.56,19],[0.7,15.8],[0.78,13.2],[0.75,10.5],[0.69,7]],
  [[0.41,25],[0.515,22.1],[0.63,19],[0.73,16],[0.79,13.2],[0.75,10.5],[0.69,7]],
  [[0.6,25],[0.745,22.1],[0.8,19],[0.8,16],[0.79,13.3],[0.75,10.5],[0.69,7]],
  [[0.8,25],[0.856,22.1],[0.86,19],[0.83,16],[0.79,13.4],[0.75,10.5],[0.69,7]],
  [[0.97,25],[0.965,22.1],[0.94,19],[0.88,16],[0.8,13.5],[0.75,10.5],[0.69,7]],
  [[1,21],[0.94,18.9],[0.88,16.5],[0.8,13.6],[0.75,10.5],[0.69,7]],
  [[1,14],[0.86,12],[0.78,10.5],[0.69,7]],
  [[1,9.5],[0.94,8.5],[0.8,7.6],[0.69,7]],
  [[1,4],[0.87,4.9],[0.78,5.8],[0.69,6.8]],
  [[0,20.8],[0.3,15.2],[0.5,11.8],[0.63,9.2],[0.69,7.1]],
  [[0,16.6],[0.21,12.6],[0.42,10.2],[0.58,8.4],[0.69,7]],
  [[0,12.6],[0.21,11.5],[0.42,9.6],[0.58,8],[0.69,7]],
  [[0,8.2],[0.22,8.0],[0.45,7.6],[0.6,7.2],[0.69,6.9]],
  [[0,4.1],[0.48,5.0],[0.6,5.9],[0.69,6.8]],
  [[0,0],[0.395,1.65],[0.55,3.5],[0.65,5.5],[0.69,6.7]],
  [[0.2,0],[0.44,1.65],[0.58,3.8],[0.69,6.7]],
  [[0.4,0],[0.52,1.65],[0.62,4],[0.69,6.7]],
  [[0.6,0],[0.61,1.45],[0.66,4],[0.69,6.7]],
  [[0.8,0],[0.73,1.65],[0.7,4],[0.69,6.7]],
  [[1,0],[0.84,1.65],[0.74,4],[0.69,6.7]]
];
const streamB = [
  [[0,13],[0.337,10.4],[0.46,8.4],[0.52,7.2],[0.45,6.0],[0.3,3.6],[0.13,1.0]],
  [[0.2,13],[0.48,10.6],[0.56,8.8],[0.58,8.0],[0.45,6.0],[0.3,3.6],[0.13,1.0]],
  [[0.4,13],[0.61,10.5],[0.64,9.4],[0.63,8.8],[0.5,6.8],[0.3,3.6],[0.13,1.0]],
  [[0.61,13],[0.70,10.5],[0.69,9.7],[0.6,8.3],[0.45,6.0],[0.13,1.0]],
  [[0.8,13],[0.735,10.4],[0.7,9.8],[0.5,6.8],[0.13,1.0]],
  [[1,10.9],[0.85,10.9],[0.76,10.5],[0.7,9.8]],
  [[0,10.8],[0.28,8.7],[0.42,6.5],[0.44,5.7],[0.3,3.6],[0.13,1.0]],
  [[0,8.6],[0.23,7.0],[0.34,5.2],[0.36,4.6],[0.25,2.9],[0.13,1.0]],
  [[0,6.5],[0.18,5.2],[0.26,3.6],[0.27,3.2],[0.13,1.0]],
  [[0,4.3],[0.12,3.4],[0.17,2.2],[0.13,1.0]],
  [[0,2.2],[0.074,1.7],[0.13,1.0]],
  [[1,8.8],[0.55,5.7],[0.42,5.0],[0.34,4.3]],
  [[1,6.5],[0.69,3.5],[0.5,1.9],[0.35,0.8],[0.2,0]],
  [[1,4.4],[0.755,2.0],[0.59,0.9],[0.46,0.2],[0.42,0]],
  [[1,2.4],[0.755,1.2],[0.6,0.4],[0.55,0]],
  [[0.2,0],[0.15,0.3],[0.13,1.0]],
  [[0.05,0],[0.1,0.5],[0.13,1.0]]
];
const streamC = [
  [[0,12],[0.196,8.2],[0.27,5.5],[0.28,3],[0.24,1.2],[0.19,0]],
  [[0.2,12],[0.25,9.8],[0.38,6.5],[0.42,4],[0.35,1.8],[0.19,0]],
  [[0.4,12],[0.44,9.8],[0.54,7],[0.57,4.6],[0.48,2.4],[0.3,0.8],[0.19,0]],
  [[0.6,12],[0.62,9.8],[0.7,7.6],[0.73,5.8],[0.66,4.6],[0.45,2.5],[0.19,0]],
  [[0.8,12],[0.8,9.8],[0.86,7.8],[0.87,6.7],[0.7,5.0],[0.45,2.5],[0.19,0]],
  [[0.93,12],[0.96,9.8],[0.98,8.2],[0.92,7.2],[0.8,5.9],[0.5,3.0],[0.19,0]],
  [[0,10],[0.137,6.6],[0.18,4.5],[0.2,2.5],[0.19,0]],
  [[0,8],[0.084,5.0],[0.12,3.0],[0.15,1.2],[0.19,0]],
  [[0,6],[0.04,3.4],[0.08,1.6],[0.14,0.4],[0.19,0]],
  [[0,3.8],[0.02,2.2],[0.08,0.7],[0.19,0]],
  [[1,8.3],[0.86,6.6],[0.6,4],[0.35,1.6],[0.19,0]],
  [[1,6],[0.85,5.9],[0.63,4.1],[0.4,1.9],[0.19,0]],
  [[1,4.1],[0.69,3.2],[0.5,2.2],[0.3,0.9],[0.19,0]],
  [[1,2.1],[0.89,2.4],[0.69,2.5],[0.5,1.6],[0.3,0.6],[0.19,0]],
  [[1,0.7],[0.73,0.6],[0.5,0.35],[0.3,0.1]],
  [[1,0.15],[0.89,0.37],[0.7,0.25],[0.55,0]]
];
// eigen-directions (dashed)
const manifoldA = [[[0.567,0],[0.99,23.3]], [[0,10.7],[1,8.3]]];
const manifoldB = [[[0.07,0],[0.9,13]], [[0,0.64],[0.09,0]]];
const manifoldC = [[[0.19,0],[1.0,7.9]]];
// density outlines: [colour index, closed curve]
const loopsA = [
  [1, [[0.82,16.6],[0.96,15.4],[0.99,12.4],[0.98,8.9],[0.86,7.4],[0.71,7.8],[0.58,8.9],[0.54,10.5],[0.56,13.5],[0.65,15.6],[0.75,16.6]]],
  [0, [[0.72,16.8],[0.86,16.0],[0.93,13.5],[0.93,9.7],[0.88,7.4],[0.75,7.4],[0.63,6.2],[0.59,7.0],[0.57,9.7],[0.59,13.1],[0.65,15.6]]],
  [2, [[0.73,15.8],[0.86,15.4],[0.96,13.5],[0.98,10.5],[1.0,9.1],[0.92,7.4],[0.78,7.0],[0.65,7.8],[0.56,9.1],[0.55,12.0],[0.61,14.7]]],
  [3, [[0.84,14.1],[0.96,13.5],[0.99,11.2],[0.97,8.5],[0.88,7.0],[0.75,6.2],[0.67,7.0],[0.66,8.9],[0.69,10.8],[0.75,12.7]]]
];
const loopsB = [
  [1, [[0.37,7.1],[0.48,6.5],[0.51,4.6],[0.43,3.0],[0.34,1.4],[0.24,0.5],[0.14,0.7],[0.11,2.0],[0.18,3.8],[0.26,5.4],[0.31,6.6]]],
  [0, [[0.46,7.66],[0.58,6.2],[0.55,4.0],[0.5,2.2],[0.36,1.2],[0.27,1.8],[0.3,3.8],[0.36,5.6],[0.4,7.1]]],
  [2, [[0.45,6.6],[0.54,5.8],[0.53,4.2],[0.43,3.0],[0.3,1.8],[0.17,1.0],[0.09,1.2],[0.08,2.2],[0.18,3.6],[0.28,5.2],[0.37,6.3]]],
  [3, [[0.45,6.2],[0.53,5.5],[0.53,4.2],[0.42,3.2],[0.3,2.2],[0.15,1.2],[0.07,1.6],[0.08,2.8],[0.16,3.8],[0.26,4.8],[0.36,5.8]]]
];
const loopsC = [
  [1, [[0,2.0],[0.2,2.9],[0.43,3.3],[0.53,4.0],[0.6,5.3],[0.7,6.9],[0.8,8.0],[0.87,8.3],[0.94,7.7],[0.97,5.8],[0.96,3.8],[0.88,2.2],[0.76,1.4],[0.6,1.5],[0.53,2.3],[0.43,2.7],[0.2,2.4],[0,1.6]]],
  [0, [[0.85,8.0],[0.9,7.0],[0.91,5.5],[0.89,3.5],[0.83,2.0],[0.72,1.0],[0.6,1.2],[0.53,2.3],[0.53,3.6],[0.58,4.7],[0.66,5.8],[0.75,7.2],[0.8,7.9]]],
  [2, [[0,1.9],[0.1,2.4],[0.29,2.8],[0.51,3.3],[0.65,3.5],[0.78,3.3],[0.8,2.9],[0.76,2.65],[0.67,2.6],[0.55,1.9],[0.49,0.9],[0.45,0.05],[0.2,0.02],[0.01,0.02],[0,1.0]]],
  [3, [[0,0.02],[0,1.5],[0.05,1.78],[0.3,1.8],[0.38,1.6],[0.41,1.2],[0.4,0.6],[0.33,0.1],[0.25,0.02]]]
];

// ---------------- styling / layout ----------------
const SERIF = '"Liberation Serif", "DejaVu Serif", serif';
const SANS = '"DejaVu Sans", "Liberation Sans", sans-serif';
const ylgnbu = ['#ffffd9','#edf8b1','#c7e9b4','#7fcdbb','#41b6c4','#1d91c0','#225ea8','#253494','#081d58'];
const densityBg = '#fffde4';
const palA = ['#fde6a9','#fccb70','#f9a63a','#ee7f23','#cf5d16','#a23e0c','#5c2206'];
const palB = ['#fdefc3','#fde2a0','#fcd17d','#fbb655','#f79a35','#e97b22','#cc5b14','#a13f0c','#6a2607'];
const palC = ['#fdf0c7','#fde3a3','#fcc96a','#fbab3e','#f08524','#d9651a','#b9490f','#90350a','#5e2005'];
const loopColors = ['rgba(95,160,212,0.85)', 'rgba(172,221,166,0.75)', 'rgba(252,192,135,0.8)', 'rgba(228,92,94,0.85)'];

const colLeft = [69, 308, 582, 835, 1080];
const colWidth = [209, 212, 224, 213, 217];
const rowTop = [47, 343, 640];
const panelH = 217;
const cbLeft = 532, cbWidth = 11;
const dotSize = [7, 6, 6];

const dens = [densA, densB, densC];
const pals = [palA, palB, palC];
const drys = [dryA, dryB, dryC];
const flows = [flowA, flowB, flowC];
const gridFlows = [gridFlowA, gridFlowB, gridFlowC];
const streams = [streamA, streamB, streamC];
const manifolds = [manifoldA, manifoldB, manifoldC];
const loops = [loopsA, loopsB, loopsC];
const thetaTicks = [thetaTicksA, thetaTicksB, thetaTicksC];

function arrowParts(api, x, y, u, v, head, color) {
  var p0 = api.coord([x, y]);
  var p1 = api.coord([x + u, y + v]);
  var dx = p1[0] - p0[0], dy = p1[1] - p0[1];
  var len = Math.sqrt(dx * dx + dy * dy) || 1;
  dx /= len; dy /= len;
  var tip = len > head ? p1 : [p0[0] + dx * head, p0[1] + dy * head];
  var bx = tip[0] - dx * head, by = tip[1] - dy * head;
  var w = head * 0.45;
  var parts = [];
  if (len > head) {
    parts.push({ type: 'line', shape: { x1: p0[0], y1: p0[1], x2: bx, y2: by }, style: { stroke: color, lineWidth: 0.8 } });
  }
  parts.push({ type: 'polygon', shape: { points: [tip, [bx - dy * w, by + dx * w], [bx + dy * w, by - dx * w]] }, style: { fill: color } });
  return parts;
}

var chartDom = document.getElementById('chart');
var myChart = echarts.init(chartDom);

var grids = [], xAxes = [], yAxes = [], series = [], visualMaps = [];
var axisText = { fontFamily: SERIF, fontSize: 16, color: '#1a1a1a' };
var gppName = '{t|GPP [g}{s|C}{t|/(m}{p|2}{t| · day)]}';

for (let r = 0; r < 3; r++) {
  for (let c = 0; c < 5; c++) {
    const g = r * 5 + c;
    grids.push({ left: colLeft[c], top: rowTop[r], width: colWidth[c], height: panelH, show: true,
      borderColor: '#9a9a9a', borderWidth: 1, backgroundColor: c === 0 ? densityBg : 'transparent' });
    xAxes.push({ gridIndex: g, type: 'value', min: 0, max: c === 0 ? efMaxDensity[r] : 1, interval: 0.2,
      name: 'EF [–]', nameLocation: 'middle', nameGap: 18,
      nameTextStyle: { fontFamily: SERIF, fontSize: 18, color: '#1a1a1a' },
      axisLine: { show: false }, axisTick: { show: true, inside: true, length: 3, lineStyle: { color: '#888' } },
      axisLabel: Object.assign({ margin: 3, showMaxLabel: !(c === 0 && r === 2) }, axisText),
      splitLine: { show: true, lineStyle: { color: '#e6e6e6', width: 1 } } });
    yAxes.push({ gridIndex: g, type: 'value', min: 0, max: gppMax[r], interval: gppStep[r],
      name: c === 0 ? gppName : '', nameLocation: 'middle', nameRotate: 90, nameGap: 27,
      nameTextStyle: { fontFamily: SERIF, fontSize: 23, color: '#1a1a1a', rich: {
        t: { fontFamily: SERIF, fontSize: 23, lineHeight: 30, color: '#1a1a1a' },
        s: { fontFamily: SERIF, fontSize: 15, lineHeight: 14, verticalAlign: 'bottom', color: '#1a1a1a' },
        p: { fontFamily: SERIF, fontSize: 15, lineHeight: 14, verticalAlign: 'top', color: '#1a1a1a' } } },
      axisLine: { show: false }, axisTick: { show: true, inside: true, length: 3, lineStyle: { color: '#888' } },
      axisLabel: Object.assign({ show: c === 0, margin: 9, showMaxLabel: gppMax[r] % gppStep[r] === 0 }, axisText),
      splitLine: { show: true, lineStyle: { color: '#e6e6e6', width: 1 } } });
  }
}
// colour bars for theta
for (let r = 0; r < 3; r++) {
  const g = 15 + r;
  grids.push({ left: cbLeft, top: rowTop[r], width: cbWidth, height: panelH, show: true, borderColor: '#9a9a9a', borderWidth: 1 });
  xAxes.push({ gridIndex: g, type: 'value', min: 0, max: 1, show: false });
  yAxes.push({ gridIndex: g, type: 'value', position: 'right', min: 0, max: thetaMax[r], interval: thetaStep[r],
    name: 'θ', nameLocation: 'end', nameGap: 3,
    nameTextStyle: { fontFamily: SERIF, fontStyle: 'italic', fontSize: 21, color: '#1a1a1a', padding: [0, 0, 0, 4] },
    axisLine: { show: false }, axisTick: { show: false }, splitLine: { show: false },
    axisLabel: Object.assign({ margin: 4, formatter: function (v, i) { return thetaTicks[r][i] || ''; } }, axisText) });
}

for (let r = 0; r < 3; r++) {
  const g = r * 5;
  // joint density (filled contours)
  series.push({ type: 'custom', xAxisIndex: g, yAxisIndex: g, silent: true, clip: true, z: 2,
    data: dens[r].map(function (d, i) { return [d[1][0][0], d[1][0][1], i]; }),
    renderItem: function (p, api) {
      var d = dens[r][api.value(2)];
      var col = pals[r][d[0]];
      return { type: 'polygon', shape: { points: d[1].map(function (q) { return api.coord(q); }), smooth: 0.35 },
        style: { fill: col, stroke: col, lineWidth: 0.5 } };
    } });
  // drydown trajectories
  series.push({ type: 'custom', xAxisIndex: g + 1, yAxisIndex: g + 1, silent: true, z: 2,
    data: drys[r].map(function (d, i) { return [d[0][0], d[0][1], i]; }),
    renderItem: function (p, api) {
      var d = drys[r][api.value(2)];
      return { type: 'polyline', shape: { points: d.map(function (q) { return api.coord([q[0], q[1]]); }) },
        style: { stroke: '#2a2a2a', lineWidth: 0.6, fill: 'none' } };
    } });
  series.push({ type: 'scatter', xAxisIndex: g + 1, yAxisIndex: g + 1, z: 3, symbolSize: dotSize[r],
    data: [].concat.apply([], drys[r]) });
  visualMaps.push({ type: 'continuous', show: false, seriesIndex: series.length - 1, dimension: 2,
    min: 0, max: thetaMax[r], inRange: { color: ylgnbu } });
  // empirical flows
  series.push({ type: 'custom', xAxisIndex: g + 2, yAxisIndex: g + 2, silent: true, clip: true, z: 2,
    data: flows[r],
    renderItem: function (p, api) {
      return { type: 'group', children: arrowParts(api, api.value(0), api.value(1), api.value(2), api.value(3), 6.5, '#404040') };
    } });
  // gridded flows
  series.push({ type: 'custom', xAxisIndex: g + 3, yAxisIndex: g + 3, silent: true, clip: true, z: 2,
    data: gridFlows[r],
    renderItem: function (p, api) {
      return { type: 'group', children: arrowParts(api, api.value(0), api.value(1), api.value(2), api.value(3), 6.5, '#404040') };
    } });
  // system evolution: loops, streamlines, eigen-directions
  series.push({ type: 'custom', xAxisIndex: g + 4, yAxisIndex: g + 4, silent: true, clip: true, z: 2,
    data: loops[r].map(function (d, i) { return [d[1][0][0], d[1][0][1], i]; }),
    renderItem: function (p, api) {
      var d = loops[r][api.value(2)];
      return { type: 'polygon', shape: { points: d[1].map(function (q) { return api.coord(q); }), smooth: 0.35 },
        style: { fill: 'none', stroke: loopColors[d[0]], lineWidth: 5.5 } };
    } });
  series.push({ type: 'custom', xAxisIndex: g + 4, yAxisIndex: g + 4, silent: true, clip: true, z: 3,
    data: streams[r].map(function (s, i) { return [s[0][0], s[0][1], i]; }),
    renderItem: function (p, api) {
      var s = streams[r][api.value(2)];
      var pts = s.map(function (q) { return api.coord(q); });
      var a = pts[0], b = pts[1], c = pts[2] || pts[1];
      var dx = c[0] - a[0], dy = c[1] - a[1];
      var L = Math.sqrt(dx * dx + dy * dy) || 1; dx /= L; dy /= L;
      var h = 7, w = 3.2;
      var tip = [b[0] + dx * h / 2, b[1] + dy * h / 2], bx = b[0] - dx * h / 2, by = b[1] - dy * h / 2;
      return { type: 'group', children: [
        { type: 'polyline', shape: { points: pts, smooth: 0.35 }, style: { stroke: '#4a4a4a', lineWidth: 0.8, fill: 'none' } },
        { type: 'polygon', shape: { points: [tip, [bx - dy * w, by + dx * w], [bx + dy * w, by - dx * w]] }, style: { fill: '#111' } }
      ] };
    } });
  series.push({ type: 'custom', xAxisIndex: g + 4, yAxisIndex: g + 4, silent: true, clip: true, z: 4,
    data: manifolds[r].map(function (m, i) { return [m[0][0], m[0][1], i]; }),
    renderItem: function (p, api) {
      var m = manifolds[r][api.value(2)];
      return { type: 'polyline', shape: { points: m.map(function (q) { return api.coord(q); }) },
        style: { stroke: '#a8233a', lineWidth: 1.5, lineDash: [6, 4], fill: 'none' } };
    } });
  // colour bar
  series.push({ type: 'custom', xAxisIndex: 15 + r, yAxisIndex: 15 + r, silent: true, z: 2,
    data: [[0.5, 0]],
    renderItem: function (p, api) {
      var a = api.coord([0, thetaMax[r]]), b = api.coord([1, 0]);
      return { type: 'rect', shape: { x: a[0], y: a[1], width: b[0] - a[0], height: b[1] - a[1] },
        style: { fill: new echarts.graphic.LinearGradient(0, 1, 0, 0,
          ylgnbu.map(function (col, i) { return { offset: i / (ylgnbu.length - 1), color: col }; })) } };
    } });
}

// frame, titles and panel tags
var titleX = [170, 414, 688, 937, 1189];
var graphics = [];
titles.forEach(function (t, i) {
  graphics.push({ type: 'text', x: titleX[i], y: 21, style: { text: t, fontFamily: SANS, fontSize: 25,
    fill: '#111', align: 'center', verticalAlign: 'middle' } });
});
[[9, 83], [262, 326], [503, 589], [794, 845], [1036, 1073], [1303, 1314]].forEach(function (s) {
  graphics.push({ type: 'line', shape: { x1: s[0], y1: 22, x2: s[1], y2: 22 }, style: { stroke: '#111', lineWidth: 2 } });
});
graphics.push({ type: 'polyline', shape: { points: [[9.5, 22], [9.5, 305.5], [1314, 305.5], [1314, 22]] },
  style: { stroke: '#111', lineWidth: 2, fill: 'none' } });
graphics.push({ type: 'rect', shape: { x: 9.5, y: 317, width: 1304.5, height: 283 }, style: { stroke: '#111', lineWidth: 2, fill: 'none' } });
graphics.push({ type: 'rect', shape: { x: 9.5, y: 612, width: 1304.5, height: 281 }, style: { stroke: '#111', lineWidth: 2, fill: 'none' } });
graphics.push({ type: 'rect', shape: { x: 832, y: 0, width: 273, height: 2 },
  style: { fill: new echarts.graphic.LinearGradient(0, 0, 1, 0, [{ offset: 0, color: '#92d6f3' }, { offset: 1, color: '#154a88' }]) } });
[286, 581, 877].forEach(function (y, i) {
  graphics.push({ type: 'text', x: 29, y: y, style: { text: panelTags[i], fontFamily: '"Liberation Sans", Arial, sans-serif',
    fontWeight: 'bold', fontSize: 22, fill: '#111', align: 'center', verticalAlign: 'middle' } });
});

var option = {
  animation: false,
  backgroundColor: '#ffffff',
  textStyle: { fontFamily: SERIF },
  grid: grids,
  xAxis: xAxes,
  yAxis: yAxes,
  visualMap: visualMaps,
  series: series,
  graphic: graphics
};

option && myChart.setOption(option);
</script>
</body>
</html>
